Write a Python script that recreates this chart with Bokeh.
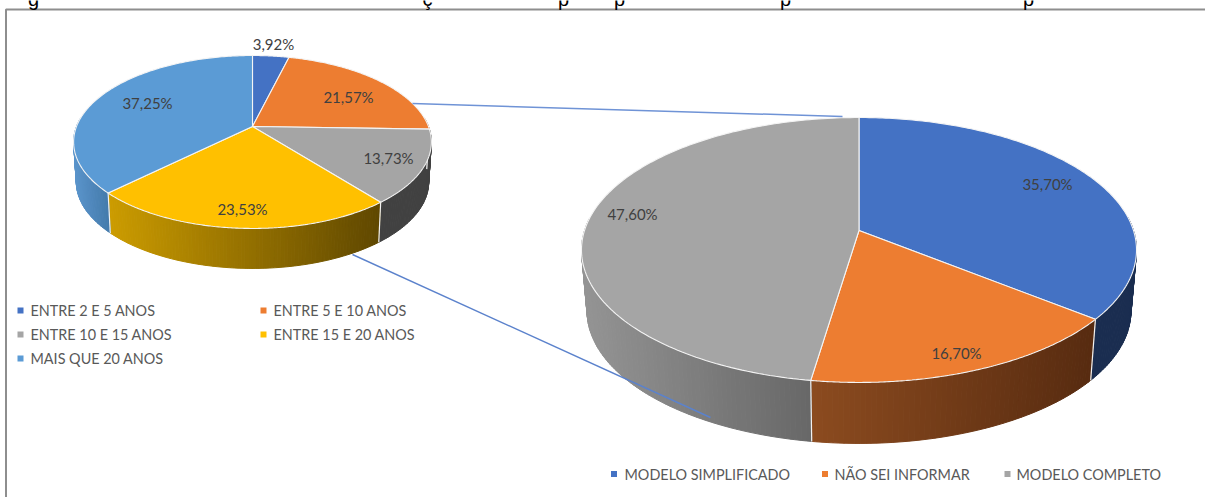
import numpy as np
from bokeh.plotting import figure
from bokeh.models import Range1d, ColumnDataSource
from bokeh.core.properties import value
from bokeh.embed import file_html
from bokeh.resources import INLINE

# ---- data -----
left_labels = ["ENTRE 2 E 5 ANOS", "ENTRE 5 E 10 ANOS", "ENTRE 10 E 15  ANOS", "ENTRE 15 E 20  ANOS", "MAIS QUE 20 ANOS"]
left_values = [3.92, 21.57, 13.73, 23.53, 37.25]
left_text = ["3,92%", "21,57%", "13,73%", "23,53%", "37,25%"]
left_colors = ["#4472C4", "#ED7D31", "#A5A5A5", "#FFC000", "#5B9BD5"]
left_side_a = ["#2F5597", "#A85A20", "#414141", "#CC9C00", "#5A94CB"]
left_side_b = ["#2F5597", "#A85A20", "#414141", "#5F4700", "#437AAB"]

right_labels = ["MODELO SIMPLIFICADO", "NÃO SEI INFORMAR", "MODELO COMPLETO"]
right_values = [35.70, 16.70, 47.60]
right_text = ["35,70%", "16,70%", "47,60%"]
right_colors = ["#4472C4", "#ED7D31", "#A5A5A5"]
right_side_a = ["#1A2D50", "#8C4B1F", "#949494"]
right_side_b = ["#1A2D50", "#572B10", "#676767"]

W, H = 1205, 497
p = figure(width=W, height=H, x_range=Range1d(0, W), y_range=Range1d(H, 0),
           output_backend="svg", toolbar_location=None, min_border=0,
           x_axis_location=None, y_axis_location=None, outline_line_color=None)
p.grid.visible = False
p.background_fill_color = "white"
p.border_fill_color = "white"


def lerp(a, b, t):
    ca = [int(a[i:i + 2], 16) for i in (1, 3, 5)]
    cb = [int(b[i:i + 2], 16) for i in (1, 3, 5)]
    return "#%02x%02x%02x" % tuple(int(round(x + (y - x) * t)) for x, y in zip(ca, cb))


def pie3d(values, colors, side_a, side_b, cx, cy, rx, b, k, depth, shrink):
    def proj(th):
        u, v = np.sin(th), -np.cos(th)
        w = 1 - k * v
        return cx + rx * u / w, cy + b * v / w

    def low(x, y):
        return cx + (x - cx) * shrink, y + depth

    total = sum(values)
    edges = np.concatenate([[0], np.cumsum(values)]) / total * 2 * np.pi
    # walls
    strips = []
    for i in range(len(values)):
        ths = np.linspace(edges[i], edges[i + 1], max(3, int((edges[i + 1] - edges[i]) * 60)))
        xs_vis = [proj(t)[0] for t in ths if -np.cos(t) > -0.05]
        if not xs_vis:
            continue
        x0, x1 = min(xs_vis), max(xs_vis)
        for t0, t1 in zip(ths[:-1], ths[1:]):
            if -np.cos((t0 + t1) / 2) < -0.1:
                continue
            xa, ya = proj(t0)
            xb, yb = proj(t1)
            xc, yc = low(xb, yb)
            xd, yd = low(xa, ya)
            f = np.clip(((xa + xb) / 2 - x0) / max(x1 - x0, 1), 0, 1)
            c = lerp(side_a[i], side_b[i], f)
            strips.append(([xa, xb, xc, xd], [ya, yb, yc, yd], c))
    p.patches([s[0] for s in strips], [s[1] for s in strips],
              fill_color=[s[2] for s in strips], line_color=[s[2] for s in strips], line_width=1)
    # white vertical edges of the walls
    for e in edges[:-1]:
        if -np.cos(e) > 0.0:
            xa, ya = proj(e)
            xd, yd = low(xa, ya)
            p.line([xa, xd], [ya, yd], line_color="#F2F2F2", line_width=1.2)
    # top faces
    for i in range(len(values)):
        ths = np.linspace(edges[i], edges[i + 1], 160)
        pts = [proj(t) for t in ths]
        p.patch([cx] + [q[0] for q in pts], [cy] + [q[1] for q in pts],
                fill_color=colors[i], line_color="#F4F4F4", line_width=1.1)


# frame of the picture
p.line([5.5, 5.5, W], [H, 9, 9], line_color="#8E8E8E", line_width=2)

pie3d(left_values, left_colors, left_side_a, left_side_b, 252, 126, 176, 83.7, 0.179, 40, 0.985)
pie3d(right_values, right_colors, right_side_a, right_side_b, 858.5, 230, 274.5, 129.6, 0.147, 61, 0.98)

# series lines
p.line([412, 842], [103, 116], line_color="#6F93D6", line_width=1.5)
p.line([352, 710], [254, 417], line_color="#5B82CC", line_width=1.5)


def labels(xs, ys, texts, color, size, align="center"):
    src = ColumnDataSource(dict(x=xs, y=ys, t=texts))
    p.text("x", "y", text="t", source=src, text_color=color, text_font=value("Lato"),
           text_font_size=size, text_align=align, text_baseline="middle")


labels([273, 348, 388, 242, 147], [43, 96, 157, 208, 102], left_text, "#404040", "15px")
labels([1047, 956, 632], [183, 352, 213], right_text, "#404040", "15px")

# legends
lx = [20, 263, 20, 263, 20]
ly = [310, 310, 334, 334, 358]
p.rect(lx, ly, width=6, height=6, fill_color=left_colors, line_color=None)
labels([30, 273, 30, 273, 30], ly, left_labels, "#595959", "14.4px", "left")

rx_ = [613.5, 824.5, 1007]
ry_ = [473.5] * 3
p.rect(rx_, ry_, width=6, height=6, fill_color=right_colors, line_color=None)
labels([624, 834, 1016], ry_, right_labels, "#595959", "14.4px", "left")

# descenders of the caption cut by the top of the picture
src = ColumnDataSource(dict(x=[33, 427, 563, 619, 785, 1028], y=[-2, -2, -2, -2, -2, -2], t=["g", "ç", "p", "p", "p", "p"]))
p.text("x", "y", text="t", source=src, text_color="black", text_font=value("Liberation Sans"),
       text_font_size="20px", text_align="center", text_baseline="alphabetic")

html = file_html(p, INLINE)
html = html.replace("<head>", "<head><style>html,body{margin:0;padding:0;overflow:hidden}</style>", 1)
open("out.html", "w").write(html)
